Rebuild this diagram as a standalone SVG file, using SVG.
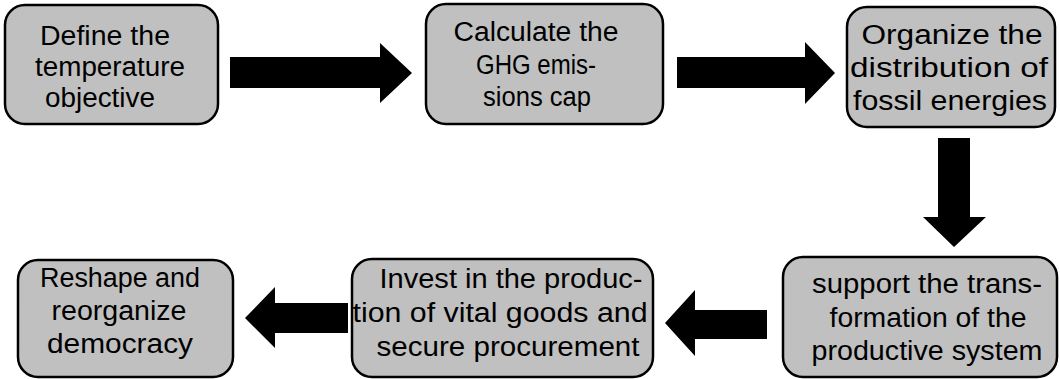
<svg xmlns="http://www.w3.org/2000/svg" width="1060" height="379" viewBox="0 0 1060 379">
<style>
.box{fill:#c0c0c0;stroke:#000;stroke-width:2.5}
.t{font-family:"Liberation Sans","Arial",sans-serif;font-size:27px;fill:#000;text-anchor:middle}
.arr{fill:#000}
</style>
<rect width="1060" height="379" fill="#fff"/>
<g id="connectors">
<polygon class="arr" points="230,57 380,57 380,43 412,73 380,103 380,88 230,88"/>
<polygon class="arr" points="677,57 805,57 805,42 835,73 805,104 805,88 677,88"/>
<polygon class="arr" points="938,138 970,138 970,217 986,217 954,247 923,217 938,217"/>
<polygon class="arr" points="767,310 695,310 695,290 665,323 695,356 695,339 767,339"/>
<polygon class="arr" points="348,303 275,303 275,287 245,318 275,348 275,333 348,333"/>
</g>
<g id="node1">
<rect class="box" x="5" y="5" width="213" height="119" rx="20"/>
<text class="t" x="105" y="45" textLength="130" lengthAdjust="spacingAndGlyphs">Define the</text>
<text class="t" x="110" y="76" textLength="150" lengthAdjust="spacingAndGlyphs">temperature</text>
<text class="t" x="100" y="107" textLength="110" lengthAdjust="spacingAndGlyphs">objective</text>
</g>
<g id="node2">
<rect class="box" x="426" y="4" width="237" height="120" rx="20"/>
<text class="t" x="536" y="41" textLength="165" lengthAdjust="spacingAndGlyphs">Calculate the</text>
<text class="t" x="536" y="74" textLength="120" lengthAdjust="spacingAndGlyphs">GHG emis-</text>
<text class="t" x="537" y="106" textLength="108" lengthAdjust="spacingAndGlyphs">sions cap</text>
</g>
<g id="node3">
<rect class="box" x="847" y="7" width="208" height="120" rx="20"/>
<text class="t" x="952" y="44" textLength="181" lengthAdjust="spacingAndGlyphs">Organize the</text>
<text class="t" x="949" y="77" textLength="198" lengthAdjust="spacingAndGlyphs">distribution of</text>
<text class="t" x="950" y="110" textLength="194" lengthAdjust="spacingAndGlyphs">fossil energies</text>
</g>
<g id="node4">
<rect class="box" x="783" y="257" width="274" height="120" rx="20"/>
<text class="t" x="927" y="293" textLength="230" lengthAdjust="spacingAndGlyphs">support the trans-</text>
<text class="t" x="928" y="327" textLength="197" lengthAdjust="spacingAndGlyphs">formation of the</text>
<text class="t" x="927" y="360" textLength="231" lengthAdjust="spacingAndGlyphs">productive system</text>
</g>
<g id="node5">
<rect class="box" x="352" y="259" width="301" height="118" rx="20"/>
<text class="t" x="511" y="288" textLength="263" lengthAdjust="spacingAndGlyphs">Invest in the produc-</text>
<text class="t" x="500" y="322" textLength="295" lengthAdjust="spacingAndGlyphs">tion of vital goods and</text>
<text class="t" x="508" y="356" textLength="263" lengthAdjust="spacingAndGlyphs">secure procurement</text>
</g>
<g id="node6">
<rect class="box" x="18" y="260" width="215" height="117" rx="20"/>
<text class="t" x="120" y="287" textLength="160" lengthAdjust="spacingAndGlyphs">Reshape and</text>
<text class="t" x="119" y="320" textLength="135" lengthAdjust="spacingAndGlyphs">reorganize</text>
<text class="t" x="120" y="353" textLength="146" lengthAdjust="spacingAndGlyphs">democracy</text>
</g>
</svg>
